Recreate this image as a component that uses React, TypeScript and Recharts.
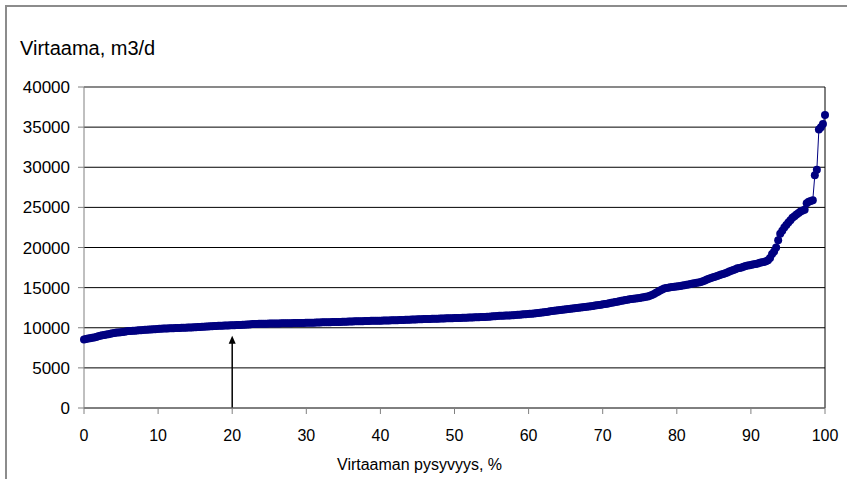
import React from "react";
import {
  LineChart,
  Line,
  XAxis,
  YAxis,
  CartesianGrid,
  ReferenceLine,
} from "recharts";

// Daily flows, sorted ascending (m3/d)
const virtaama: number[] = [
  8550, 8600, 8650, 8700, 8750, 8800, 8850, 8950, 9000, 9050,
  9100, 9150, 9200, 9250, 9300, 9350, 9400, 9420, 9450, 9480,
  9500, 9550, 9580, 9600, 9620, 9640, 9660, 9680, 9700, 9720,
  9740, 9760, 9780, 9790, 9800, 9820, 9840, 9860, 9880, 9900,
  9910, 9920, 9930, 9940, 9950, 9960, 9970, 9980, 9990, 10000,
  10010, 10020, 10030, 10040, 10050, 10060, 10080, 10100, 10120, 10140,
  10150, 10160, 10180, 10200, 10210, 10220, 10240, 10250, 10260, 10270,
  10280, 10290, 10300, 10310, 10320, 10330, 10340, 10350, 10360, 10370,
  10400, 10420, 10440, 10460, 10470, 10480, 10490, 10500, 10500, 10510,
  10510, 10520, 10520, 10530, 10530, 10540, 10540, 10550, 10550, 10560,
  10560, 10570, 10570, 10580, 10580, 10590, 10590, 10600, 10600, 10610,
  10610, 10620, 10620, 10630, 10640, 10650, 10660, 10670, 10680, 10690,
  10700, 10700, 10710, 10710, 10720, 10720, 10730, 10740, 10750, 10760,
  10770, 10780, 10790, 10800, 10800, 10810, 10810, 10820, 10830, 10840,
  10850, 10860, 10860, 10870, 10870, 10880, 10880, 10890, 10890, 10900,
  10910, 10920, 10930, 10940, 10950, 10960, 10970, 10980, 10990, 11000,
  11010, 11020, 11030, 11040, 11050, 11060, 11070, 11080, 11090, 11100,
  11100, 11110, 11110, 11120, 11130, 11140, 11150, 11160, 11170, 11180,
  11180, 11190, 11200, 11210, 11220, 11230, 11240, 11250, 11260, 11270,
  11280, 11290, 11300, 11310, 11320, 11330, 11340, 11350, 11360, 11380,
  11400, 11420, 11440, 11460, 11480, 11500, 11510, 11520, 11530, 11540,
  11550, 11570, 11590, 11610, 11630, 11650, 11670, 11690, 11710, 11730,
  11750, 11780, 11810, 11840, 11870, 11900, 11930, 11960, 12000, 12050,
  12100, 12130, 12160, 12190, 12220, 12250, 12280, 12310, 12340, 12370,
  12400, 12430, 12460, 12490, 12520, 12550, 12580, 12610, 12640, 12680,
  12720, 12760, 12800, 12840, 12880, 12920, 12960, 13000, 13050, 13100,
  13150, 13200, 13250, 13300, 13350, 13400, 13450, 13500, 13540, 13570,
  13600, 13640, 13680, 13720, 13760, 13800, 13850, 13900, 13980, 14080,
  14200, 14350, 14500, 14650, 14780, 14880, 14950, 15000, 15040, 15080,
  15120, 15150, 15180, 15210, 15250, 15300, 15350, 15400, 15450, 15500,
  15550, 15600, 15650, 15700, 15800, 15900, 16000, 16100, 16200, 16300,
  16350, 16450, 16550, 16650, 16700, 16800, 16900, 17000, 17100, 17200,
  17300, 17400, 17450, 17500, 17600, 17700, 17750, 17800, 17850, 17900,
  17950, 18000, 18100, 18150, 18200, 18300, 18400, 18700, 19200, 19500,
  20000, 20900, 21700, 22100, 22500, 22800, 23100, 23400, 23700, 23900,
  24100, 24300, 24500, 24600, 24700, 25500, 25700, 25800, 25900, 29000,
  29700, 34700, 35000, 35400, 36500,
];

const xTicks = [0, 10, 20, 30, 40, 50, 60, 70, 80, 90, 100];
const yTicks = [0, 5000, 10000, 15000, 20000, 25000, 30000, 35000, 40000];

// exceedance percentage from the rank of each day
const data = virtaama.map((v, i) => ({
  p: (i / (virtaama.length - 1)) * 100,
  v,
}));

const font = "'Liberation Sans', Arial, sans-serif";

const Arrow = (props: any) => {
  const { x1, y1, x2, y2 } = props;
  if (x1 == null || y1 == null) return null;
  const top = Math.min(y1, y2);
  const bottom = Math.max(y1, y2);
  return (
    <g>
      <line x1={x1} y1={bottom} x2={x1} y2={top + 4} stroke="#000" strokeWidth={1.5} />
      <path
        d={`M${x1},${top} L${x1 - 3.5},${top + 8} L${x1 + 3.5},${top + 8} Z`}
        fill="#000"
      />
    </g>
  );
};

const App: React.FC = () => {
  return (
    <div
      style={{
        position: "absolute",
        left: 0,
        top: 0,
        width: 847,
        height: 479,
        overflow: "hidden",
        background: "#fff",
        fontFamily: font,
      }}
    >
      {/* outer frame, right and bottom edges fall outside the picture */}
      <div
        style={{
          position: "absolute",
          left: 5,
          top: 5,
          width: 900,
          height: 600,
          borderLeft: "2px solid #8c8c8c",
          borderTop: "2px solid #8c8c8c",
        }}
      />

      <div
        style={{
          position: "absolute",
          left: 20,
          top: 38,
          fontSize: 20,
          lineHeight: "20px",
          color: "#000",
        }}
      >
        Virtaama, m3/d
      </div>

      <LineChart
        width={847}
        height={479}
        data={data}
        margin={{ top: 87, right: 22, bottom: 31, left: 0 }}
        style={{ position: "absolute", left: 0, top: 0 }}
      >
        <CartesianGrid horizontal vertical={false} stroke="#000" />
        <XAxis
          dataKey="p"
          type="number"
          domain={[0, 100]}
          ticks={xTicks}
          interval={0}
          height={40}
          tickSize={6}
          tickMargin={16}
          stroke="#808080"
          tick={{ fill: "#000", fontSize: 16, fontFamily: font }}
        />
        <YAxis
          type="number"
          domain={[0, 40000]}
          ticks={yTicks}
          interval={0}
          width={84}
          tickSize={6}
          tickMargin={8}
          stroke="#808080"
          tick={{ fill: "#000", fontSize: 17, fontFamily: font }}
        />
        <ReferenceLine y={40000} stroke="#8c8c8c" strokeWidth={1.5} />
        <ReferenceLine x={100} stroke="#000" />
        <ReferenceLine
          segment={[
            { x: 20, y: 0 },
            { x: 20, y: 9000 },
          ]}
          shape={Arrow}
        />
        <Line
          type="linear"
          dataKey="v"
          stroke="#000080"
          strokeWidth={1}
          dot={{ r: 4, fill: "#000080", stroke: "none" }}
          activeDot={false}
          isAnimationActive={false}
        />
      </LineChart>

      <div
        style={{
          position: "absolute",
          left: 337,
          top: 457,
          fontSize: 16,
          lineHeight: "16px",
          color: "#000",
          whiteSpace: "nowrap",
        }}
      >
        Virtaaman pysyvyys, %
      </div>
    </div>
  );
};

export default App;
